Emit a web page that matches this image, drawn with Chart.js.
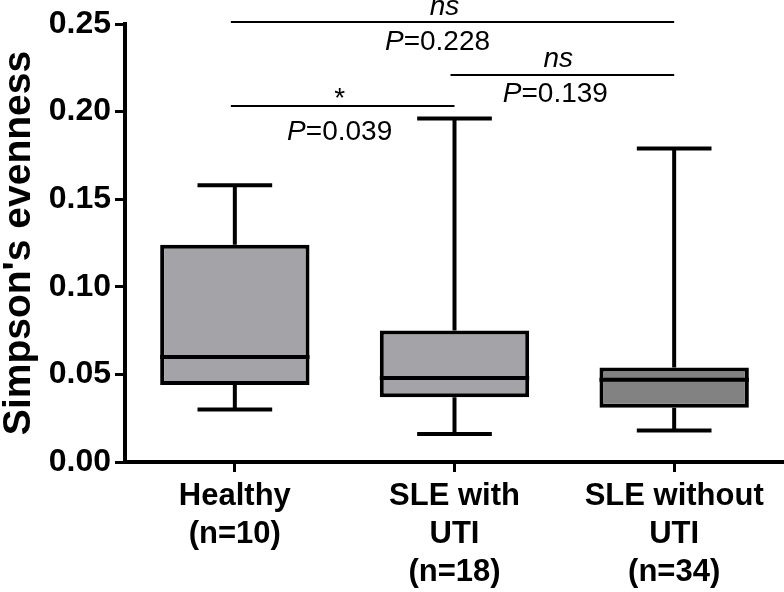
<!DOCTYPE html>
<html>
<head>
<meta charset="utf-8">
<script src="https://cdn.jsdelivr.net/npm/chart.js@4"></script>
<style>
  html, body { margin: 0; padding: 0; background: #fff; }
  #wrap { width: 784px; height: 592px; }
</style>
</head>
<body>
<div id="wrap"><canvas id="c" width="784" height="592"></canvas></div>
<script>
// ---- data ----
const categories = [['Healthy', '(n=10)'], ['SLE with', 'UTI', '(n=18)'], ['SLE without', 'UTI', '(n=34)']];
const whiskerLow  = [0.030, 0.016, 0.018];
const quartile1   = [0.044, 0.037, 0.031];
const medians     = [0.060, 0.048, 0.047];
const quartile3   = [0.124, 0.075, 0.054];
const whiskerHigh = [0.158, 0.196, 0.179];
const yMin = 0, yMax = 0.25, yStep = 0.05;

// significance brackets
const bracketFrom  = [0, 1, 0];
const bracketTo    = [2, 2, 1];
const bracketLevel = [0.2511, 0.2209, 0.2032];
const bracketMark  = ['ns', 'ns', '*'];
const bracketP     = ['0.228', '0.139', '0.039'];

// ---- styles ----
const FONT = '"Liberation Sans", Arial, Helvetica, sans-serif';
const boxFill = ['#a3a3a8', '#a3a3a8', '#828282'];
const markDy = [-7, -8, 1];
const pDy = [28, 27, 34];
const markShiftX = [-10, -6, -5];
const pShiftX = [-17, -9, -5];

const boxPlugin = {
  id: 'boxExtras',
  afterDatasetsDraw(chart) {
    const ctx = chart.ctx;
    const meta = chart.getDatasetMeta(0);
    const ys = chart.scales.y;
    ctx.save();
    ctx.strokeStyle = '#000';
    ctx.lineWidth = 4;
    ctx.lineCap = 'butt';
    meta.data.forEach((bar, i) => {
      const x = bar.x, w = bar.width;
      const cap = w * 0.5;
      const yLo = ys.getPixelForValue(whiskerLow[i]);
      const yQ1 = ys.getPixelForValue(quartile1[i]);
      const yMed = ys.getPixelForValue(medians[i]);
      const yQ3 = ys.getPixelForValue(quartile3[i]);
      const yHi = ys.getPixelForValue(whiskerHigh[i]);
      ctx.beginPath();
      ctx.moveTo(x, yQ3); ctx.lineTo(x, yHi);
      ctx.moveTo(x - cap / 2, yHi); ctx.lineTo(x + cap / 2, yHi);
      ctx.moveTo(x, yQ1); ctx.lineTo(x, yLo);
      ctx.moveTo(x - cap / 2, yLo); ctx.lineTo(x + cap / 2, yLo);
      ctx.moveTo(x - w / 2, yMed); ctx.lineTo(x + w / 2, yMed);
      ctx.stroke();
    });

    // brackets
    const xs = chart.scales.x;
    ctx.lineWidth = 2;
    ctx.fillStyle = '#000';
    bracketFrom.forEach((f, k) => {
      const x1 = xs.getPixelForValue(f);
      const x2 = xs.getPixelForValue(bracketTo[k]);
      const yl = ys.getPixelForValue(bracketLevel[k]);
      ctx.beginPath();
      ctx.moveTo(x1 - 4, yl); ctx.lineTo(x2, yl);
      ctx.stroke();
      const mid = (x1 + x2) / 2;
      ctx.textBaseline = 'alphabetic';
      ctx.textAlign = 'center';
      ctx.font = (bracketMark[k] === '*' ? 'normal ' : 'italic ') + '28px ' + FONT;
      ctx.fillText(bracketMark[k], mid + markShiftX[k], yl + markDy[k]);
      ctx.font = 'italic 28px ' + FONT;
      const wP = ctx.measureText('P').width;
      ctx.font = '28px ' + FONT;
      const rest = '=' + bracketP[k];
      const wR = ctx.measureText(rest).width;
      const start = mid + pShiftX[k] - (wP + wR) / 2;
      ctx.textAlign = 'left';
      ctx.font = 'italic 28px ' + FONT;
      ctx.fillText('P', start, yl + pDy[k]);
      ctx.font = '28px ' + FONT;
      ctx.fillText(rest, start + wP, yl + pDy[k]);
    });
    ctx.restore();
  }
};

new Chart(document.getElementById('c'), {
  type: 'bar',
  data: {
    labels: categories,
    datasets: [{
      data: quartile1.map((q, i) => [q, quartile3[i]]),
      backgroundColor: boxFill,
      borderColor: '#000',
      borderWidth: 4,
      borderSkipped: false,
      barPercentage: 0.68,
      categoryPercentage: 1.0
    }]
  },
  options: {
    responsive: false,
    animation: false,
    devicePixelRatio: 1,
    layout: { padding: { top: 24, left: 0, right: 0, bottom: 0 } },
    plugins: { legend: { display: false }, tooltip: { enabled: false } },
    scales: {
      x: {
        offset: true,
        grid: { display: true, drawOnChartArea: false, drawTicks: true, tickLength: 10, lineWidth: 3, color: '#000', offset: false },
        border: { display: true, width: 4, color: '#000' },
        ticks: { color: '#000', padding: 6, maxRotation: 0, autoSkip: false,
          font: { family: FONT, size: 31, weight: 'bold', lineHeight: 1.22 } },
        afterFit(s) { s.height = 130; }
      },
      y: {
        min: yMin, max: yMax,
        grid: { display: true, drawOnChartArea: false, drawTicks: true, tickLength: 10, lineWidth: 3, color: '#000' },
        border: { display: true, width: 4, color: '#000' },
        ticks: { stepSize: yStep, color: '#000', padding: 4,
          font: { family: FONT, size: 32, weight: 'bold' },
          callback: v => v.toFixed(2) },
        title: { display: true, text: "Simpson's evenness", color: '#000',
          font: { family: FONT, size: 39, weight: 'bold', lineHeight: 1.0 }, padding: { top: 0, bottom: 0 } },
        afterFit(s) { s.width = 125; }
      }
    }
  },
  plugins: [boxPlugin]
});
</script>
</body>
</html>
